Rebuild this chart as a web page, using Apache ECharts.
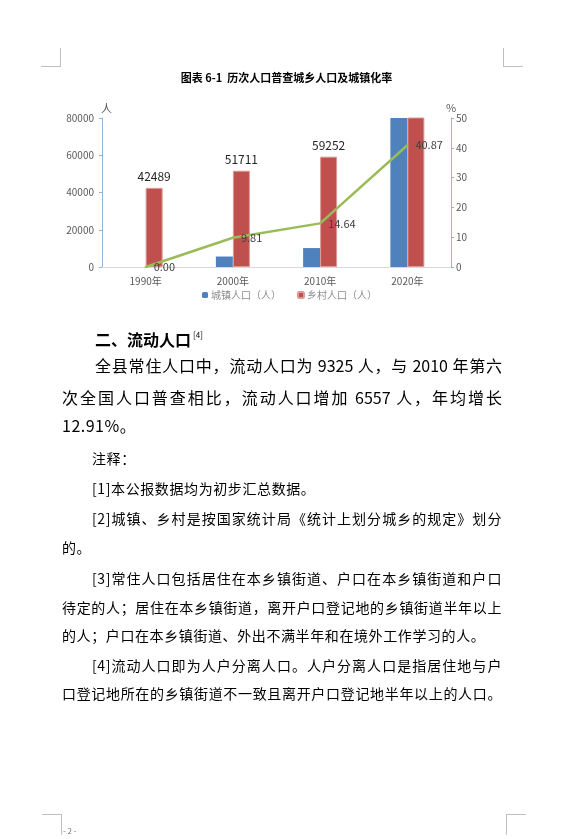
<!DOCTYPE html>
<html lang="zh">
<head>
<meta charset="UTF-8">
<title>历次人口普查城乡人口及城镇化率</title>
<script src="https://cdn.jsdelivr.net/npm/echarts@6/dist/echarts.min.js"></script>
<style>
    html, body { margin: 0; padding: 0; background: #fff; }
    body { width: 573px; height: 839px; position: relative; overflow: hidden;
        font-family: "Noto Sans CJK SC", sans-serif; color: #000; }
    #main { position: absolute; left: 0; top: 0; width: 573px; height: 839px; }
    .ln { position: absolute; white-space: nowrap; }
    .j { text-align: justify; text-align-last: justify; }
    .b16 { font-size: 16px; line-height: 20px; }
    .n14 { font-size: 14px; line-height: 18px; letter-spacing: 0.6px; }
    .mk { position: absolute; border-color: #c0c0c0; border-style: solid; border-width: 0; }
</style>
</head>
<body>
<div id="main"></div>

<!-- 页面角标 -->
<div class="mk" style="left:41px;top:48px;width:19px;height:18px;border-right-width:1px;border-bottom-width:1px;"></div>
<div class="mk" style="left:503px;top:48px;width:19px;height:18px;border-left-width:1px;border-bottom-width:1px;"></div>
<div class="mk" style="left:42px;top:814px;width:19px;height:20px;border-right-width:1px;border-top-width:1px;"></div>
<div class="mk" style="left:506px;top:814px;width:19px;height:20px;border-left-width:1px;border-top-width:1px;"></div>
<div class="ln" style="left:63px;top:825px;font-size:8px;color:#777;">- 2 -</div>

<!-- 正文 -->
<div class="ln" style="left:95px;top:325px;font-size:16px;line-height:20px;font-weight:bold;">二、流动人口<sup style="font-size:8px;font-weight:normal;vertical-align:8px;margin-left:2px;">[4]</sup></div>
<div class="ln b16 j" style="left:95px;top:355px;width:407px;">全县常住人口中，流动人口为 9325 人，与 2010 年第六</div>
<div class="ln b16 j" style="left:62px;top:387px;width:440px;">次全国人口普查相比，流动人口增加 6557 人，年均增长</div>
<div class="ln b16" style="left:62px;top:415px;letter-spacing:0.5px;">12.91%。</div>

<div class="ln n14" style="left:92px;top:449px;">注释：</div>
<div class="ln n14" style="left:92px;top:479px;">[1]本公报数据均为初步汇总数据。</div>
<div class="ln n14 j" style="left:92px;top:509px;width:410px;">[2]城镇、乡村是按国家统计局《统计上划分城乡的规定》划分</div>
<div class="ln n14" style="left:62px;top:538px;">的。</div>
<div class="ln n14 j" style="left:92px;top:569px;width:410px;">[3]常住人口包括居住在本乡镇街道、户口在本乡镇街道和户口</div>
<div class="ln n14 j" style="left:62px;top:598px;width:440px;">待定的人；居住在本乡镇街道，离开户口登记地的乡镇街道半年以上</div>
<div class="ln n14" style="left:62px;top:626px;">的人；户口在本乡镇街道、外出不满半年和在境外工作学习的人。</div>
<div class="ln n14 j" style="left:92px;top:656px;width:410px;">[4]流动人口即为人户分离人口。人户分离人口是指居住地与户</div>
<div class="ln n14 j" style="left:62px;top:684px;width:440px;">口登记地所在的乡镇街道不一致且离开户口登记地半年以上的人口。</div>

<script type="text/javascript">
    // 普查年份
    var years = ['1990年', '2000年', '2010年', '2020年'];
    // 城镇人口（人），2020 年柱子超出坐标轴被截断
    var urbanPop = [0, 5624, 10162, 82000];
    // 乡村人口（人）
    var ruralPop = [42489, 51711, 59252, 118640];
    // 城镇化率（%）
    var urbanRate = [0.00, 9.81, 14.64, 40.87];
    // 坐标轴刻度
    var popMax = 80000, popStep = 20000;
    var rateMax = 50, rateStep = 10;

    var font = '"Noto Sans CJK SC", sans-serif';
    var chart = echarts.init(document.getElementById('main'));

    var option = {
        animation: false,
        title: {
            text: '图表 6-1  历次人口普查城乡人口及城镇化率',
            left: 'center',
            top: 67,
            textStyle: { fontSize: 11, fontWeight: 'bold', color: '#000', fontFamily: font }
        },
        legend: {
            left: 197,
            top: 285,
            itemWidth: 6,
            itemHeight: 6,
            itemGap: 16,
            data: ['城镇人口（人）', '乡村人口（人）'],
            textStyle: { fontSize: 10, color: '#8c8c8c', fontFamily: font, padding: [0, 0, 0, -2] }
        },
        grid: {
            left: 102,
            right: 122,
            top: 118,
            bottom: 572,
            containLabel: false,
            outerBoundsMode: 'none'
        },
        xAxis: {
            type: 'category',
            data: years,
            axisLine: { lineStyle: { color: '#d9d9d9' } },
            axisTick: { inside: true, length: 5, lineStyle: { color: '#d9d9d9' } },
            axisLabel: { color: '#595959', fontSize: 10, margin: 9, fontFamily: font }
        },
        yAxis: [{
            type: 'value',
            name: '人',
            nameGap: 4,
            nameTextStyle: { color: '#595959', fontSize: 11, align: 'left', padding: [0, 0, 0, -1], fontFamily: font },
            min: 0,
            max: popMax,
            interval: popStep,
            splitLine: { show: false },
            axisLine: { show: true, lineStyle: { color: '#95b3d7' } },
            axisTick: { show: true, length: 3, lineStyle: { color: '#95b3d7' } },
            axisLabel: { color: '#595959', fontSize: 10, margin: 8, fontFamily: font,
                formatter: function (v) { return String(v); } }
        }, {
            type: 'value',
            name: '%',
            nameGap: 4,
            nameTextStyle: { color: '#595959', fontSize: 11, fontFamily: font },
            min: 0,
            max: rateMax,
            interval: rateStep,
            splitLine: { show: false },
            axisLine: { show: true, lineStyle: { color: '#95b3d7' } },
            axisTick: { show: true, length: 3, lineStyle: { color: '#95b3d7' } },
            axisLabel: { color: '#595959', fontSize: 10, margin: 5, fontFamily: font,
                formatter: function (v) { return String(v); } }
        }],
        series: [{
            name: '城镇人口（人）',
            type: 'bar',
            barWidth: 17,
            barGap: '0%',
            clip: true,
            itemStyle: { color: '#4f81bd' },
            data: urbanPop
        }, {
            name: '乡村人口（人）',
            type: 'bar',
            barWidth: 17,
            clip: true,
            itemStyle: { color: '#c0504d', borderColor: '#dc9a98', borderWidth: 1 },
            label: {
                show: true,
                position: 'top',
                distance: 5,
                color: '#262626',
                fontSize: 12,
                fontFamily: font,
                formatter: function (p) { return p.value > popMax ? '' : String(p.value); }
            },
            data: ruralPop
        }, {
            name: '城镇化率',
            type: 'line',
            yAxisIndex: 1,
            symbol: 'circle',
            symbolSize: 2,
            showSymbol: true,
            z: 5,
            lineStyle: { color: '#9bbb59', width: 2.5 },
            itemStyle: { color: '#9bbb59' },
            label: {
                show: true,
                position: 'right',
                distance: 7,
                color: '#404040',
                fontSize: 11,
                fontFamily: font,
                formatter: function (p) { return Number(p.value).toFixed(2); }
            },
            labelLayout: { hideOverlap: false },
            data: urbanRate.map(function (v, i) {
                return i === urbanRate.length - 1 ? { value: v, label: { offset: [-9, 0] } } : v;
            })
        }]
    };
    chart.setOption(option);
</script>
</body>
</html>
